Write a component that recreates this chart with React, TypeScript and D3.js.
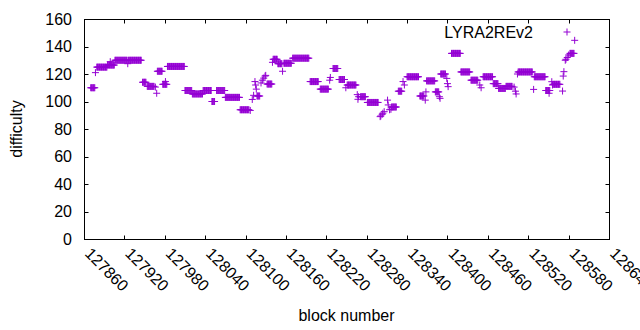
import * as d3 from "d3";

// tick values on the two axes
const xTicks = [127860, 127920, 127980, 128040, 128100, 128160, 128220, 128280, 128340, 128400, 128460, 128520, 128580, 128640];
const yTicks = [0, 20, 40, 60, 80, 100, 120, 140, 160];

const runFirst = [
  127870, 127877, 127879, 127895, 127899, 127906, 127925, 127926, 127947, 127954,
  127966, 127968, 127969, 127977, 127981, 127984, 128010, 128021, 128037, 128050,
  128057, 128070, 128092, 128107, 128110, 128112, 128114, 128115, 128116, 128117,
  128123, 128125, 128127, 128129, 128130, 128132, 128140, 128141, 128148, 128155,
  128157, 128170, 128196, 128211, 128225, 128226, 128230, 128239, 128249, 128251,
  128266, 128267, 128268, 128271, 128281, 128300, 128301, 128303, 128304, 128306,
  128311, 128312, 128314, 128316, 128317, 128327, 128334, 128336, 128340, 128359,
  128367, 128368, 128369, 128382, 128388, 128389, 128390, 128399, 128400, 128401,
  128406, 128420, 128435, 128448, 128450, 128453, 128468, 128476, 128487, 128499,
  128501, 128502, 128504, 128505, 128528, 128529, 128546, 128551, 128555, 128556,
  128557, 128571, 128572, 128573, 128575, 128576, 128578, 128580, 128582, 128589,
];
const runLast = [
  127876, 127877, 127894, 127905, 127899, 127924, 127925, 127945, 127952, 127964,
  127966, 127968, 127976, 127983, 127981, 128009, 128020, 128036, 128049, 128054,
  128069, 128091, 128105, 128107, 128110, 128112, 128114, 128115, 128116, 128121,
  128123, 128125, 128127, 128129, 128130, 128139, 128140, 128147, 128154, 128155,
  128168, 128194, 128208, 128223, 128225, 128226, 128237, 128247, 128249, 128264,
  128266, 128267, 128268, 128278, 128297, 128300, 128301, 128303, 128304, 128306,
  128311, 128312, 128314, 128316, 128324, 128332, 128334, 128336, 128357, 128365,
  128367, 128368, 128381, 128387, 128388, 128389, 128397, 128399, 128400, 128401,
  128419, 128433, 128445, 128448, 128450, 128467, 128475, 128486, 128496, 128499,
  128501, 128502, 128504, 128526, 128528, 128545, 128552, 128551, 128555, 128556,
  128567, 128571, 128572, 128573, 128575, 128576, 128578, 128580, 128588, 128589,
];
const runDiff = [
  110, 121, 125, 126.5, 129, 130, 127.5, 130, 114, 111,
  110.5, 106, 122, 112.5, 114.5, 125.5, 108, 105.5, 108, 100,
  108, 103, 94, 93.5, 101.5, 104.5, 114.5, 112, 109, 104,
  113.5, 115.5, 117, 118.5, 119, 112.7, 128.5, 130.7, 127.5, 122,
  127.8, 131.5, 114.5, 109, 115.5, 117.5, 124, 116, 110, 112,
  105, 101.6, 103.5, 103.5, 99.3, 89, 89.5, 90.7, 91.5, 92.6,
  101, 97.5, 94, 94.3, 96, 107.5, 114.5, 112, 118, 104,
  101, 107, 115, 107, 103.5, 102.3, 120, 116.8, 113, 110.8,
  135, 121.5, 115.5, 112, 110, 118, 113, 109.5, 111, 110.5,
  107.5, 105.5, 120, 121.5, 108.8, 118, 108, 106, 114.4, 112,
  112.5, 107.6, 118.5, 121.7, 130, 130.7, 132, 133.8, 135, 144.5,
];

const seriesName = "LYRA2REv2";
const color = "#9400d3";
const font = "'Liberation Sans', Arial, sans-serif";

export default function App() {
  const width = 640;
  const height = 330;
  const marginLeft = 84;
  const marginRight = 31;
  const marginTop = 19;
  const marginBottom = 91;

  const x = d3.scaleLinear([127860, 128640], [marginLeft, width - marginRight]);
  const y = d3.scaleLinear([0, 160], [height - marginBottom, marginTop]);

  const points: [number, number][] = runFirst.flatMap((first, i) =>
    d3.range(first, runLast[i] + 1).map((b) => [b, runDiff[i]] as [number, number])
  );

  // gnuplot style "+" markers
  const s = 3.5;
  const plus = (cx: number, cy: number) => `M${cx - s},${cy}H${cx + s}M${cx},${cy - s}V${cy + s}`;
  const marks = points.map(([b, v]) => plus(x(b), y(v))).join("");

  const left = marginLeft + 0.5;
  const right = width - marginRight + 0.5;
  const top = marginTop + 0.5;
  const bottom = height - marginBottom + 0.5;
  const tick = 4;

  return (
    <svg
      width={width}
      height={height}
      style={{ position: "absolute", left: 0, top: 0, background: "#fff" }}
      fontFamily={font}
      fontSize={16}
    >
      {/* data */}
      <path d={marks} fill="none" stroke={color} strokeWidth={1} />

      {/* border */}
      <rect x={left} y={top} width={right - left} height={bottom - top} fill="none" stroke="#000" strokeWidth={1} />

      {/* y ticks and labels */}
      {yTicks.map((t) => {
        const ty = Math.round(y(t)) + 0.5;
        return (
          <g key={t}>
            <line x1={left} x2={left + tick} y1={ty} y2={ty} stroke="#000" />
            <line x1={right} x2={right - tick} y1={ty} y2={ty} stroke="#000" />
            <text x={72} y={y(t)} dy="0.36em" textAnchor="end">{t}</text>
          </g>
        );
      })}

      {/* x ticks and rotated labels */}
      {xTicks.map((t) => {
        const tx = Math.round(x(t)) + 0.5;
        return (
          <g key={t}>
            <line x1={tx} x2={tx} y1={bottom} y2={bottom - tick} stroke="#000" />
            <line x1={tx} x2={tx} y1={top} y2={top + tick} stroke="#000" />
            <text transform={`translate(${x(t) + 4},${bottom + 11}) rotate(45)`} dy="0.36em">{t}</text>
          </g>
        );
      })}

      {/* axis titles */}
      <text transform={`translate(22,${(marginTop + height - marginBottom) / 2}) rotate(-90)`} textAnchor="middle">difficulty</text>
      <text x={(marginLeft + width - marginRight) / 2} y={321} textAnchor="middle">block number</text>

      {/* key */}
      <text x={533} y={32} dy="0.36em" textAnchor="end">{seriesName}</text>
      <path d={plus(567, 32)} stroke={color} strokeWidth={1} />
    </svg>
  );
}
